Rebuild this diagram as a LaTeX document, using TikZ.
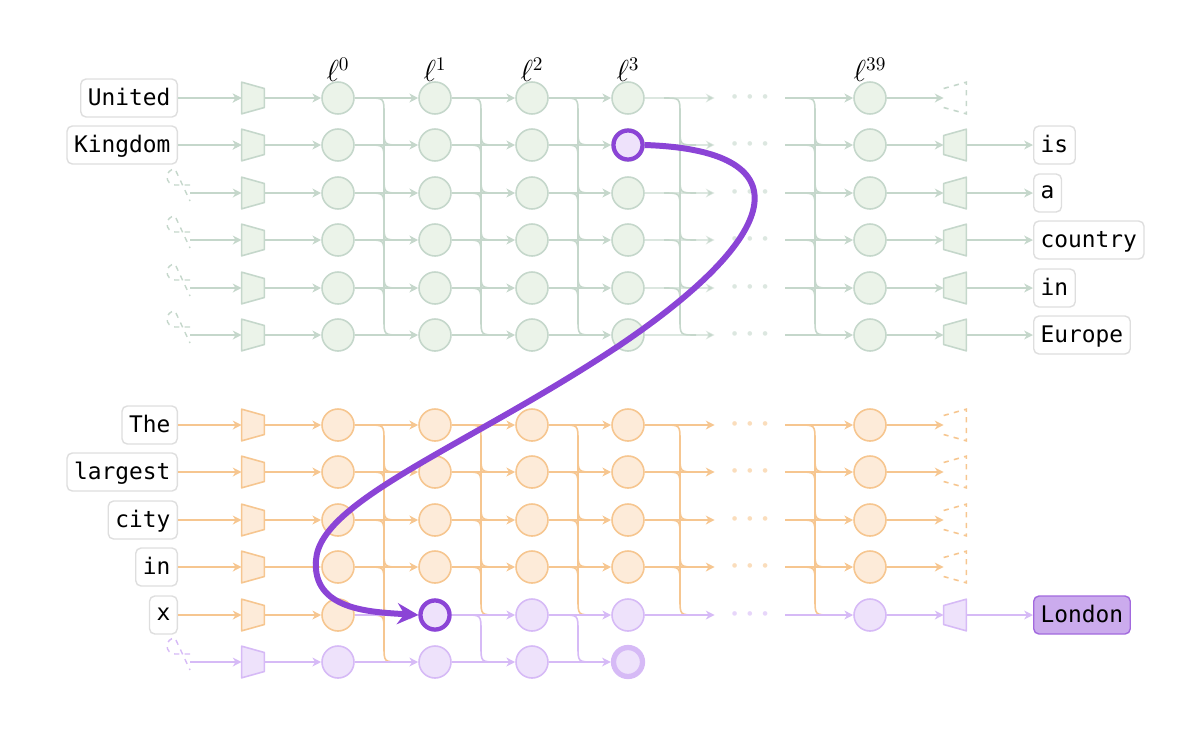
\documentclass[tikz,border=0pt]{standalone}
\usepackage{fontspec}
\newfontfamily\tokfont{DejaVu Sans Mono}
\usetikzlibrary{arrows.meta, calc}

\definecolor{gfill}{HTML}{EBF3E9}
\definecolor{gline}{HTML}{C5D7CB}
\definecolor{ofill}{HTML}{FDEBD9}
\definecolor{oline}{HTML}{F6C690}
\definecolor{pfill}{HTML}{EEE2FB}
\definecolor{pline}{HTML}{D6BAF6}
\definecolor{pdark}{HTML}{8B44D6}
\definecolor{boxline}{HTML}{DEDEDE}

\tikzset{
  nd/.style={circle, draw=#1line, fill=#1fill, line width=0.9pt, minimum size=0.64cm, inner sep=0pt},
  trbase/.style={rectangle, minimum width=0.44cm, minimum height=0.62cm, inner sep=0pt},
  trin/.style={trbase, append after command={\pgfextra{%
    \draw[draw=#1line, fill=#1fill, line width=0.9pt, line join=round]
      (\tikzlastnode.north west) -- ($(\tikzlastnode.north east)!0.2!(\tikzlastnode.south east)$)
      -- ($(\tikzlastnode.north east)!0.8!(\tikzlastnode.south east)$) -- (\tikzlastnode.south west) -- cycle;}}},
  trout/.style={trbase, append after command={\pgfextra{%
    \draw[draw=#1line, fill=#1fill, line width=0.9pt, line join=round]
      (\tikzlastnode.north east) -- ($(\tikzlastnode.north west)!0.2!(\tikzlastnode.south west)$)
      -- ($(\tikzlastnode.north west)!0.8!(\tikzlastnode.south west)$) -- (\tikzlastnode.south east) -- cycle;}}},
  trdash/.style={trbase, append after command={\pgfextra{%
    \draw[draw=#1line, line width=0.9pt, dashed]
      ($(\tikzlastnode.north west)!0.2!(\tikzlastnode.south west)$) -- (\tikzlastnode.north east) -- (\tikzlastnode.south east)
      -- ($(\tikzlastnode.north west)!0.8!(\tikzlastnode.south west)$);}}},
  ar/.style={draw=#1line, line width=0.9pt, -{Stealth[length=5pt,width=5pt,inset=1.5pt]}},
  bus/.style={draw=#1line, line width=0.9pt},
  tok/.style={draw=boxline, fill=white, rounded corners=3pt, line width=0.8pt, font=\tokfont\fontsize{13}{15}\selectfont,
    inner xsep=4pt, minimum height=0.76cm, text depth=0.2ex},
  dotsn/.style={minimum width=1.4cm, inner sep=0pt, text=#1line!60, font=\small},
  lay/.style={font=\fontsize{16}{18}\selectfont},
}

% bus: x, y top, y bottom, colour, source rows, target rows
\newcommand\bus[6]{%
  \draw[bus=#4] (#1,#2+16) -- (#1,#3-16);
  \foreach \ys in {#5} {\draw[bus=#4] (#1-16,\ys) .. controls (#1,\ys) .. (#1,\ys+16);}
  \foreach \yt in {#6} {\draw[bus=#4] (#1,\yt-16) .. controls (#1,\yt) .. (#1+16,\yt);}
}

\begin{document}
\begin{tikzpicture}[x=0.02cm, y=-0.02cm]
\useasboundingbox (0,0) rectangle (1200,731);

% layer labels
\node[lay] at (338,70) {$\ell^{0}$};
\node[lay] at (435,70) {$\ell^{1}$};
\node[lay] at (532,70) {$\ell^{2}$};
\node[lay] at (628,70) {$\ell^{3}$};
\node[lay] at (870,70) {$\ell^{39}$};

% top block
\foreach \x in {384,481,578,680,815} {
  \bus{\x}{98}{335}{g}{98,145,193,240,288}{145,193,240,288,335}
}
\foreach \r/\y in {1/98,2/145,3/193,4/240,5/288,6/335} {
  \node[trin=g] (t\r-in) at (253,\y) {};
  \node[nd=g] (t\r-0) at (338,\y) {};
  \node[nd=g] (t\r-1) at (435,\y) {};
  \node[nd=g] (t\r-2) at (532,\y) {};
  \node[nd=g] (t\r-3) at (628,\y) {};
  \node[dotsn=g] (t\r-d) at (750,\y) {\textbullet\,\textbullet\,\textbullet};
  \node[nd=g] (t\r-39) at (870,\y) {};
  \coordinate (t\r-s) at (190,\y);
  \draw[ar=g] (t\r-s) -- (t\r-in);
  \draw[ar=g] (t\r-in) -- (t\r-0);
  \draw[ar=g] (t\r-0) -- (t\r-1);
  \draw[ar=g] (t\r-1) -- (t\r-2);
  \draw[ar=g] (t\r-2) -- (t\r-3);
  \draw[ar=g, draw opacity=0.6] (t\r-3) -- (t\r-d.west);
  \draw[ar=g] (t\r-d.east) -- (t\r-39);
}
\foreach \y in {193,240,288,335} {
  \draw[gline, dashed, line width=0.8pt] (190,\y-8) -- (175,\y-8) arc (90:270:8) -- (190,\y+8);
}

\node[tok, anchor=east] (u1) at (178,98) {United};
\node[tok, anchor=east] (u2) at (178,145) {Kingdom};
\draw[ar=g] (u1) -- (t1-in);
\draw[ar=g] (u2) -- (t2-in);

\node[trdash=g] (t1-out) at (955,98) {};
\draw[ar=g] (t1-39) -- (t1-out);
\foreach \r/\y/\w in {2/145/is,3/193/a,4/240/country,5/288/in,6/335/Europe} {
  \node[trout=g] (t\r-out) at (955,\y) {};
  \node[tok, anchor=west] (w\r) at (1033,\y) {\w};
  \draw[ar=g] (t\r-39) -- (t\r-out);
  \draw[ar=g] (t\r-out) -- (w\r);
}

% bottom block
\bus{384}{425}{662}{o}{425,472,520,567,615}{472,520,567,615,662}
\foreach \x in {481,578} {
  \bus{\x}{425}{615}{o}{425,472,520,567}{472,520,567,615}
  \bus{\x}{615}{662}{p}{615}{662}
}
\foreach \x in {680,815} {
  \bus{\x}{425}{615}{o}{425,472,520,567}{472,520,567,615}
}

\foreach \r/\y/\cb/\cc in {1/425/o/o,2/472/o/o,3/520/o/o,4/567/o/o,5/615/p/p} {
  \node[trin=o] (b\r-in) at (253,\y) {};
  \node[nd=o] (b\r-0) at (338,\y) {};
  \node[nd=\cb] (b\r-1) at (435,\y) {};
  \node[nd=\cc] (b\r-2) at (532,\y) {};
  \node[nd=\cc] (b\r-3) at (628,\y) {};
  \node[dotsn=\cc] (b\r-d) at (750,\y) {\textbullet\,\textbullet\,\textbullet};
  \node[nd=\cc] (b\r-39) at (870,\y) {};
  \draw[ar=o] (b\r-in) -- (b\r-0);
  \draw[ar=\cb] (b\r-0) -- (b\r-1);
  \draw[ar=\cc] (b\r-1) -- (b\r-2);
  \draw[ar=\cc] (b\r-2) -- (b\r-3);
  \draw[ar=\cc] (b\r-3) -- (b\r-d.west);
  \draw[ar=\cc] (b\r-d.east) -- (b\r-39);
}
\foreach \r/\y/\w in {1/425/The,2/472/largest,3/520/city,4/567/in,5/615/x} {
  \node[tok, anchor=east] (v\r) at (178,\y) {\w};
  \draw[ar=o] (v\r) -- (b\r-in);
}
\foreach \r/\y in {1/425,2/472,3/520,4/567} {
  \node[trdash=o] (b\r-out) at (955,\y) {};
  \draw[ar=o] (b\r-39) -- (b\r-out);
}
\node[trout=p] (b5-out) at (955,615) {};
\node[tok, anchor=west, draw=pdark!80, fill=pdark!45] (w7) at (1033,615) {London};
\draw[ar=p] (b5-39) -- (b5-out);
\draw[ar=p] (b5-out) -- (w7);

% last row
\coordinate (b6-s) at (190,662);
\draw[pline, dashed, line width=0.8pt] (190,654) -- (175,654) arc (90:270:8) -- (190,670);
\node[trin=p] (b6-in) at (253,662) {};
\node[nd=p] (b6-0) at (338,662) {};
\node[nd=p] (b6-1) at (435,662) {};
\node[nd=p] (b6-2) at (532,662) {};
\node[nd=p, draw=pline, line width=3pt, minimum size=0.58cm] (b6-3) at (628,662) {};
\draw[ar=p] (b6-s) -- (b6-in);
\draw[ar=p] (b6-in) -- (b6-0);
\draw[ar=p] (b6-0) -- (b6-1);
\draw[ar=p] (b6-1) -- (b6-2);
\draw[ar=p] (b6-2) -- (b6-3);

% highlighted states and the jump
\node[nd=p, draw=pdark, line width=2.4pt, minimum size=0.58cm] (t2-3h) at (t2-3) {};
\node[nd=p, draw=pdark, line width=2.4pt, minimum size=0.58cm] (b5-1h) at (b5-1) {};
\draw[pdark, line width=3.4pt, -{Stealth[length=12pt,width=12pt,inset=4pt]}]
  (t2-3h.east) .. controls (800,150) and (790,230) .. (620,345)
  .. controls (470,445) and (320,500) .. (316,560)
  .. controls (312,610) and (370,612) .. (b5-1h.west);
\end{tikzpicture}
\end{document}
